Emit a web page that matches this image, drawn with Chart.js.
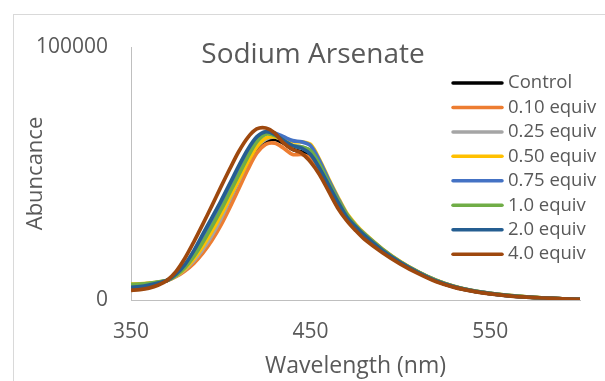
<!DOCTYPE html>
<html>
<head>
<meta charset="utf-8">
<script src="https://cdn.jsdelivr.net/npm/chart.js@4.4.1/dist/chart.umd.min.js"></script>
<style>
  html, body { margin: 0; padding: 0; background: #fff; overflow: hidden; }
  #wrap { position: relative; width: 605px; height: 381px; }
  #frame { position: absolute; left: 13px; top: 14px; width: 800px; height: 600px; border: 1px solid #d9d9d9; }
  canvas { position: absolute; left: 0; top: 0; }
</style>
</head>
<body>
<div id="wrap">
  <div id="frame"></div>
  <canvas id="chart" width="605" height="381"></canvas>
</div>
<script>
// wavelengths (nm) shared by every series
const wavelengths = [350,355,360,365,370,375,380,385,390,395,400,405,410,415,420,425,430,435,440,445,450,455,460,465,470,475,480,490,500,510,520,530,540,550,560,570,580,590,600];

const control = [5800,6000,6300,6800,7700,9500,12000,15000,19000,24500,31000,38500,46500,54000,60000,62500,63500,62000,59500,58500,56500,51500,45000,38500,33000,28500,25000,19300,14700,10800,7500,5200,3600,2500,1700,1200,800,500,300];
const eq010 = [5900,6100,6400,6900,7600,9200,11500,14500,18500,23500,29500,36500,44000,51500,58000,61500,62000,60000,57500,57500,56000,51000,45000,38500,33000,28700,25200,19500,14800,10800,7500,5200,3600,2500,1700,1200,800,500,300];
const eq025 = [6000,6200,6500,7000,7700,9400,12000,15500,20000,25500,32000,39500,47000,54500,60500,63500,64500,63000,61000,60500,59000,53000,46000,39500,34000,29500,26000,20000,15000,11000,7700,5300,3700,2600,1800,1200,800,500,300];
const eq050 = [6300,6400,6700,7100,7700,9500,12300,16300,21300,27000,33500,40500,47500,54500,60500,64000,64500,63500,62500,62500,61500,55500,48000,41000,34500,30000,26300,20200,15200,11100,7800,5400,3700,2600,1800,1200,800,500,300];
const eq075 = [5800,6000,6400,7000,7700,9800,13200,18000,24000,30500,37000,44000,51000,58000,63500,66500,66000,64500,63000,62500,61000,55000,47500,40500,34000,29500,26000,20000,15000,11000,7700,5300,3700,2600,1700,1200,800,500,300];
const eq10 = [6200,6300,6600,7100,7700,9700,12800,17200,22800,29000,35500,42500,49500,56500,62500,65500,65000,63000,61000,60500,59000,53500,46500,40000,34000,29500,26000,20000,15000,11000,7700,5300,3700,2600,1800,1200,800,500,300];
const eq20 = [5000,5300,5900,6700,7700,10200,14000,19500,26000,32500,39000,46000,53000,59500,64500,66500,65500,63000,61000,60000,57500,52000,45500,39000,33000,29000,25500,19600,14800,10800,7500,5200,3600,2500,1700,1100,800,500,300];
const eq40 = [3800,4100,4700,5800,7700,11200,16500,23000,30000,37200,44600,51800,58700,64200,67600,68000,66000,62000,59500,58000,54500,49500,43000,36500,31500,27500,24000,18700,14200,10400,7200,5000,3500,2400,1600,1100,800,500,300];

const seriesLabels = ['Control','0.10 equiv','0.25 equiv','0.50 equiv','0.75 equiv','1.0 equiv','2.0 equiv','4.0 equiv'];
const seriesValues = [control, eq010, eq025, eq050, eq075, eq10, eq20, eq40];
const seriesColors = ['#000000','#ED7D31','#A5A5A5','#FFC000','#4472C4','#70AD47','#255E91','#9E480E'];

const xTicks = [350, 450, 550];
const yTicks = [0, 100000];

const textColor = '#595959';
Chart.defaults.font.family = "'Open Sans', sans-serif";
Chart.defaults.color = textColor;

// title and legend sit on top of the plot, like the Excel original
const overlay = {
  id: 'overlay',
  afterDraw(chart) {
    const ctx = chart.ctx;
    ctx.save();
    ctx.fillStyle = textColor;
    ctx.font = "28px 'Open Sans', sans-serif";
    ctx.textAlign = 'center';
    ctx.textBaseline = 'alphabetic';
    ctx.fillText('Sodium Arsenate', 313, 63);

    ctx.font = "18.5px 'Open Sans', sans-serif";
    ctx.textAlign = 'left';
    ctx.textBaseline = 'middle';
    chart.data.datasets.forEach(function (ds, i) {
      const y = 83 + i * 24.45;
      ctx.strokeStyle = ds.borderColor;
      ctx.lineWidth = 3.5;
      ctx.lineCap = 'round';
      ctx.beginPath();
      ctx.moveTo(453, y);
      ctx.lineTo(502, y);
      ctx.stroke();
      ctx.fillText(ds.label, 508, y);
    });
    ctx.restore();
  }
};

const datasets = seriesValues.map(function (vals, i) {
  return {
    label: seriesLabels[i],
    data: wavelengths.map((w, j) => ({x: w, y: vals[j]})),
    borderColor: seriesColors[i],
    backgroundColor: seriesColors[i],
    borderWidth: 3.7,
    pointRadius: 0,
    tension: 0.3,
    fill: false,
    order: seriesLabels.length - i
  };
});

new Chart(document.getElementById('chart'), {
  type: 'line',
  data: {datasets: datasets},
  options: {
    responsive: false,
    animation: false,
    layout: {padding: {left: 0, top: 47, right: 25, bottom: 0}},
    plugins: {legend: {display: false}, tooltip: {enabled: false}},
    scales: {
      x: {
        type: 'linear',
        min: 350,
        max: 600,
        afterBuildTicks: s => { s.ticks = xTicks.map(v => ({value: v})); },
        afterFit: s => { s.height = 81; },
        ticks: {padding: 19, font: {size: 21}, color: textColor, callback: v => String(v)},
        grid: {display: false, drawTicks: false},
        border: {color: '#bfbfbf', width: 1},
        title: {display: true, text: 'Wavelength (nm)', font: {size: 23}, color: textColor, padding: {top: 0, bottom: 1}}
      },
      y: {
        min: 0,
        max: 100000,
        afterBuildTicks: s => { s.ticks = yTicks.map(v => ({value: v})); },
        afterFit: s => { s.width = 131; },
        ticks: {padding: 23, font: {size: 21}, color: textColor, callback: v => String(v)},
        grid: {display: false, drawTicks: false},
        border: {color: '#bfbfbf', width: 1},
        title: {display: true, text: 'Abuncance', font: {size: 22}, color: textColor, padding: {top: 23, bottom: 0}}
      }
    }
  },
  plugins: [overlay]
});
</script>
</body>
</html>
